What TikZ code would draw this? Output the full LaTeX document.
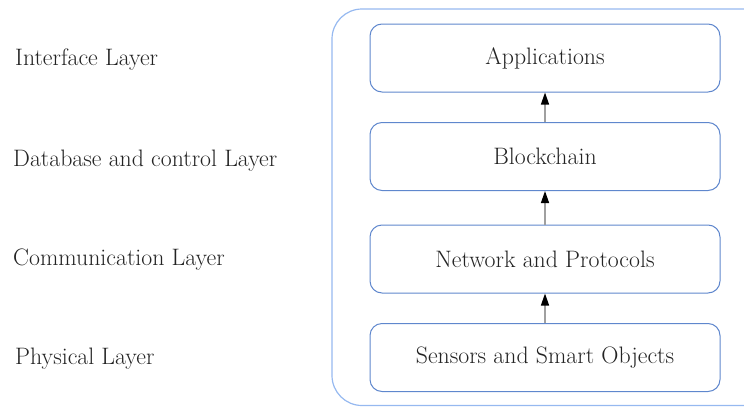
\documentclass[tikz,border=0pt]{standalone}
\usetikzlibrary{arrows.meta}
\definecolor{innerc}{RGB}{95,135,205}
\definecolor{outerc}{RGB}{150,185,240}
\definecolor{shaftc}{RGB}{160,160,160}
\definecolor{textc}{RGB}{35,35,35}
\tikzset{
  layerbox/.style={draw=innerc, line width=1pt, rounded corners=12pt, minimum width=350pt, minimum height=68pt, inner sep=0pt, font=\fontsize{23.8}{26}\selectfont, text=textc},
  layerlabel/.style={anchor=west, inner sep=0pt, font=\fontsize{23.8}{26}\selectfont, text=textc},
  uparrow/.style={draw=shaftc, line width=1.3pt, -{Triangle[length=12pt,width=8pt,fill=black,color=black]}}
}
\begin{document}
\begin{tikzpicture}[x=1pt,y=-1pt]
\useasboundingbox (0,0) rectangle (744,407);
\begin{scope}
\clip (0,0) rectangle (744,407);
\draw[outerc, line width=1.2pt, rounded corners=30pt] (332,9) rectangle (775,405.5);
\end{scope}
\node[layerbox] (app) at (545,58) {Applications};
\node[layerbox] (bc) at (545,156.5) {Blockchain};
\node[layerbox] (net) at (545,259) {Network and Protocols};
\node[layerbox] (sen) at (545,357.5) {Sensors and Smart Objects};
\draw[uparrow] (bc.north) -- (app.south);
\draw[uparrow] (net.north) -- (bc.south);
\draw[uparrow] (sen.north) -- (net.south);
\node[layerlabel] (l1) at (15,60) {Interface Layer};
\node[layerlabel] (l2) at (13,161) {Database and control Layer};
\node[layerlabel] (l3) at (13,260) {Communication Layer};
\node[layerlabel] (l4) at (15,359) {Physical Layer};
\end{tikzpicture}
\end{document}
